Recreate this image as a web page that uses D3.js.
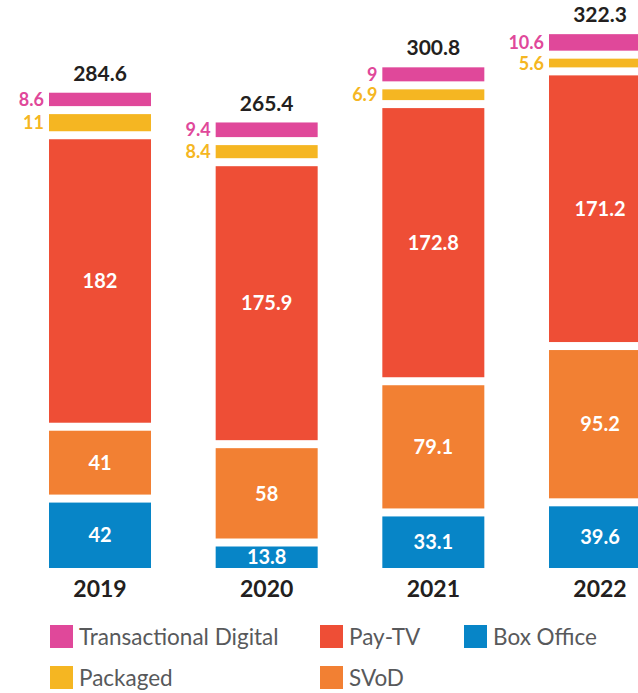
<!DOCTYPE html>
<html>
<head>
<meta charset="utf-8">
<script src="https://cdn.jsdelivr.net/npm/d3@7"></script>
<style>
  html, body { margin: 0; padding: 0; background: #fff; }
  svg { display: block; font-family: Lato, "Open Sans", sans-serif; }
</style>
</head>
<body>
<svg id="chart" width="638" height="693"></svg>
<script>
// ---- data ----
const years = ["2019", "2020", "2021", "2022"];
const boxOffice = [42, 13.8, 33.1, 39.6];
const svod = [41, 58, 79.1, 95.2];
const payTV = [182, 175.9, 172.8, 171.2];
const packaged = [11, 8.4, 6.9, 5.6];
const transactional = [8.6, 9.4, 9, 10.6];
const totals = [284.6, 265.4, 300.8, 322.3];
const seriesNames = ["Box Office", "SVoD", "Pay-TV", "Packaged", "Transactional Digital"];
const legendRow1 = ["Transactional Digital", "Pay-TV", "Box Office"];
const legendRow2 = ["Packaged", "SVoD"];

// ---- styles ----
const colors = {
  "Box Office": "#0785C7",
  "SVoD": "#F28033",
  "Pay-TV": "#EE4E36",
  "Packaged": "#F5B622",
  "Transactional Digital": "#E0489A"
};
const insideLabel = { "Box Office": true, "SVoD": true, "Pay-TV": true, "Packaged": false, "Transactional Digital": false };
const GAP = 8;
const baseY = 568;

const svg = d3.select("#chart");

const table = years.map((yr, i) => ({
  year: yr,
  "Box Office": boxOffice[i],
  "SVoD": svod[i],
  "Pay-TV": payTV[i],
  "Packaged": packaged[i],
  "Transactional Digital": transactional[i],
  total: totals[i]
}));

const stacked = d3.stack().keys(seriesNames)(table);

const x = d3.scaleBand().domain(years).range([49, 651]).paddingInner(0.388).paddingOuter(0);
const y = d3.scaleLinear().domain([0, d3.max(totals)]).range([baseY, 66]);

// bars
stacked.forEach((layer, li) => {
  const key = layer.key;
  const g = svg.append("g");
  g.selectAll("rect").data(layer).join("rect")
    .attr("x", d => x(d.data.year))
    .attr("width", x.bandwidth())
    .attr("y", d => y(d[1]) - li * GAP)
    .attr("height", d => Math.max(0, y(d[0]) - y(d[1])))
    .attr("fill", colors[key]);

  g.selectAll("text").data(layer).join("text")
    .attr("x", d => insideLabel[key] ? x(d.data.year) + x.bandwidth() / 2 : x(d.data.year) - 5)
    .attr("y", d => (y(d[1]) + y(d[0])) / 2 - li * GAP)
    .attr("dy", "0.36em")
    .attr("text-anchor", insideLabel[key] ? "middle" : "end")
    .attr("fill", insideLabel[key] ? "#fff" : colors[key])
    .attr("font-size", insideLabel[key] ? 20 : 18)
    .attr("font-weight", 700)
    .text(d => d.data[key]);
});

// totals
svg.append("g").selectAll("text").data(table).join("text")
  .attr("x", d => x(d.year) + x.bandwidth() / 2)
  .attr("y", d => y(d.total) - (seriesNames.length - 1) * GAP - 12)
  .attr("text-anchor", "middle")
  .attr("fill", "#231F20")
  .attr("font-size", 21)
  .attr("font-weight", 700)
  .text(d => d3.format(".1f")(d.total));

// year axis labels
const xAxis = d3.axisBottom(x).tickSize(0).tickPadding(0);
const ax = svg.append("g").attr("transform", `translate(0,${baseY})`).call(xAxis);
ax.select(".domain").remove();
ax.selectAll("text")
  .attr("y", 29)
  .attr("dy", 0)
  .attr("fill", "#231F20")
  .attr("font-size", 23)
  .attr("font-weight", 700)
  .attr("font-family", "Lato, sans-serif");

// legend
const legCols = [50, 320, 464];
function drawLegendRow(names, yTop) {
  names.forEach((n, i) => {
    const g = svg.append("g").attr("transform", `translate(${legCols[i]},${yTop})`);
    g.append("rect").attr("width", 23).attr("height", 23).attr("fill", colors[n]);
    g.append("text").attr("x", 29).attr("y", 11.5).attr("dy", "0.36em")
      .attr("fill", "#58595B").attr("font-size", 22.5).attr("font-weight", 400)
      .text(n);
  });
}
drawLegendRow(legendRow1, 625);
drawLegendRow(legendRow2, 666);
</script>
</body>
</html>
